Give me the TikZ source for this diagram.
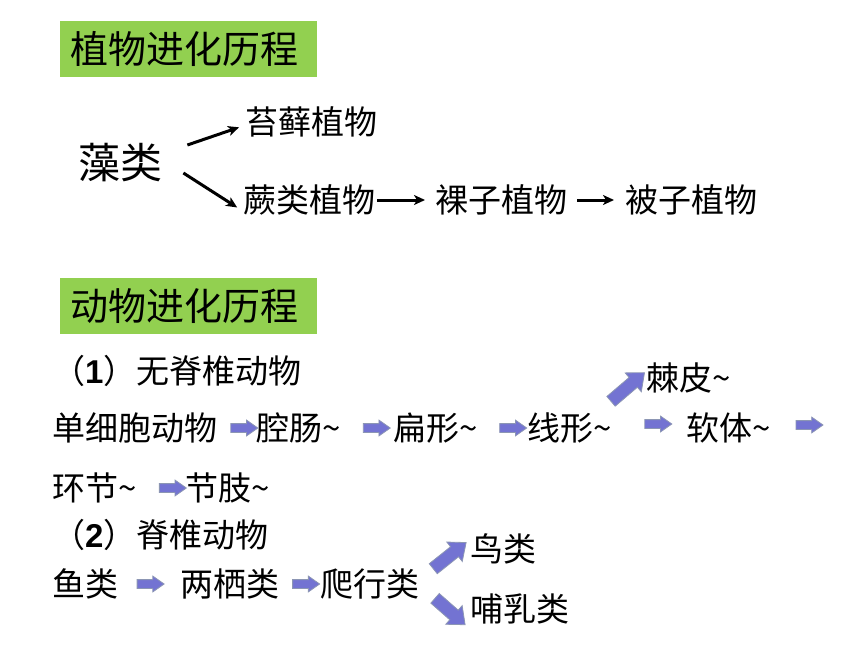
\documentclass[tikz,border=0pt]{standalone}
\usepackage{fontspec}
\setmainfont{Noto Sans CJK SC}
\newfontfamily\numfont{Liberation Sans}
\usepackage{tikz}
\usetikzlibrary{arrows.meta,shapes.arrows,positioning}
\definecolor{titlegreen}{RGB}{146,208,80}
\definecolor{arrfill}{RGB}{115,115,210}
\definecolor{arrline}{RGB}{140,150,180}

\begin{document}
\begin{tikzpicture}[x=1pt, y=-1pt, >={Stealth[length=11pt, width=10pt, inset=3pt]},
     txt/.style = {anchor=west, inner sep=2pt, font=\fontsize{33}{38}\selectfont},
     ttl/.style = {anchor=north west, fill=titlegreen, minimum height=56pt,
                   text width=237pt, inner xsep=10pt, inner ysep=0pt,
                   font=\fontsize{38}{44}\selectfont},
      pl/.style = {->, line width=3pt, shorten >=1pt},
     blk/.style = {single arrow, fill=arrfill, draw=arrline, line width=0.8pt,
                   inner sep=4pt, minimum height=27pt,
                   single arrow head extend=3.5pt, single arrow tip angle=70},
  bigblk/.style = {blk, sloped, inner sep=6pt, minimum height=44pt,
                   single arrow head extend=6pt, single arrow tip angle=80}
                    ]
\useasboundingbox (0,0) rectangle (860,645);

% plants
\node (t1) [ttl] at (60,21) {植物进化历程};
\node (zao) [txt, font=\fontsize{42}{48}\selectfont] at (76,163) {藻类};
\node (tx)  [txt] at (243,122) {苔藓植物};
\node (jl)  [txt] at (241,200) {蕨类植物};
\node (lz)  [txt] at (433,200) {裸子植物};
\node (bz)  [txt] at (623,200) {被子植物};

\draw[pl] ([shift={(23,-18)}]zao.east) -- ([shift={(-3,5)}]tx.west);
\draw[pl] ([shift={(19,10)}]zao.east)  -- ([shift={(-3,8)}]jl.west);
\draw[pl, shorten >=8pt]                (jl) -- (lz);
\draw[pl, shorten <=8pt, shorten >=9pt] (lz) -- (bz);

% animals
\node (t2) [ttl] at (60,278) {动物进化历程};
\node (wj)  [txt] at (50,371) {（{\numfont\bfseries 1}）无脊椎动物};
\node (dxb) [txt] at (50,428)  {单细胞动物};
\node (qc)  [txt] at (254,428) {腔肠\textasciitilde};
\node (bx)  [txt] at (391,428) {扁形\textasciitilde};
\node (xx)  [txt] at (525,428) {线形\textasciitilde};
\node (rt)  [txt] at (684,428) {软体\textasciitilde};
\node (jp)  [txt] at (644,378) {棘皮\textasciitilde};
\coordinate (wrap) at (840,428);
\node (hj)  [txt] at (50,488)  {环节\textasciitilde};
\node (jz)  [txt] at (183,488) {节肢\textasciitilde};

\node (jz2) [txt] at (50,535)  {（{\numfont\bfseries 2}）脊椎动物};
\node (yl)  [txt] at (50,584)  {鱼类};
\node (lq)  [txt] at (178,584) {两栖类};
\node (px)  [txt] at (318,584) {爬行类};
\node (nl)  [txt] at (468,549) {鸟类};
\node (br)  [txt] at (468,609) {哺乳类};

\path (dxb) -- node[blk, pos=0.63] {} (qc)
      (qc)  -- node[blk, pos=0.64] {} (bx)
      (bx)  -- node[blk, pos=0.67] {} (xx)
      (xx)  -- node[blk, pos=0.59, yshift=4pt] {} (rt)
      (rt)  -- node[blk, pos=0.5, yshift=3pt] {} (wrap)
      (hj)  -- node[blk, pos=0.70] {} (jz)
      (yl)  -- node[blk, pos=0.47] {} (lq)
      (lq)  -- node[blk, pos=0.59] {} (px);
\path ([shift={(-7,-23)}]xx.east) -- node[bigblk] {} ([shift={(-1,-4)}]jp.west)
      ([shift={(9,-13)}]px.east)  -- node[bigblk, minimum height=42pt] {} ([shift={(-5,-4)}]nl.west)
      ([shift={(11,12)}]px.east)  -- node[bigblk, minimum height=40pt] {} ([shift={(-6,13)}]br.west);
\end{tikzpicture}
\end{document}
